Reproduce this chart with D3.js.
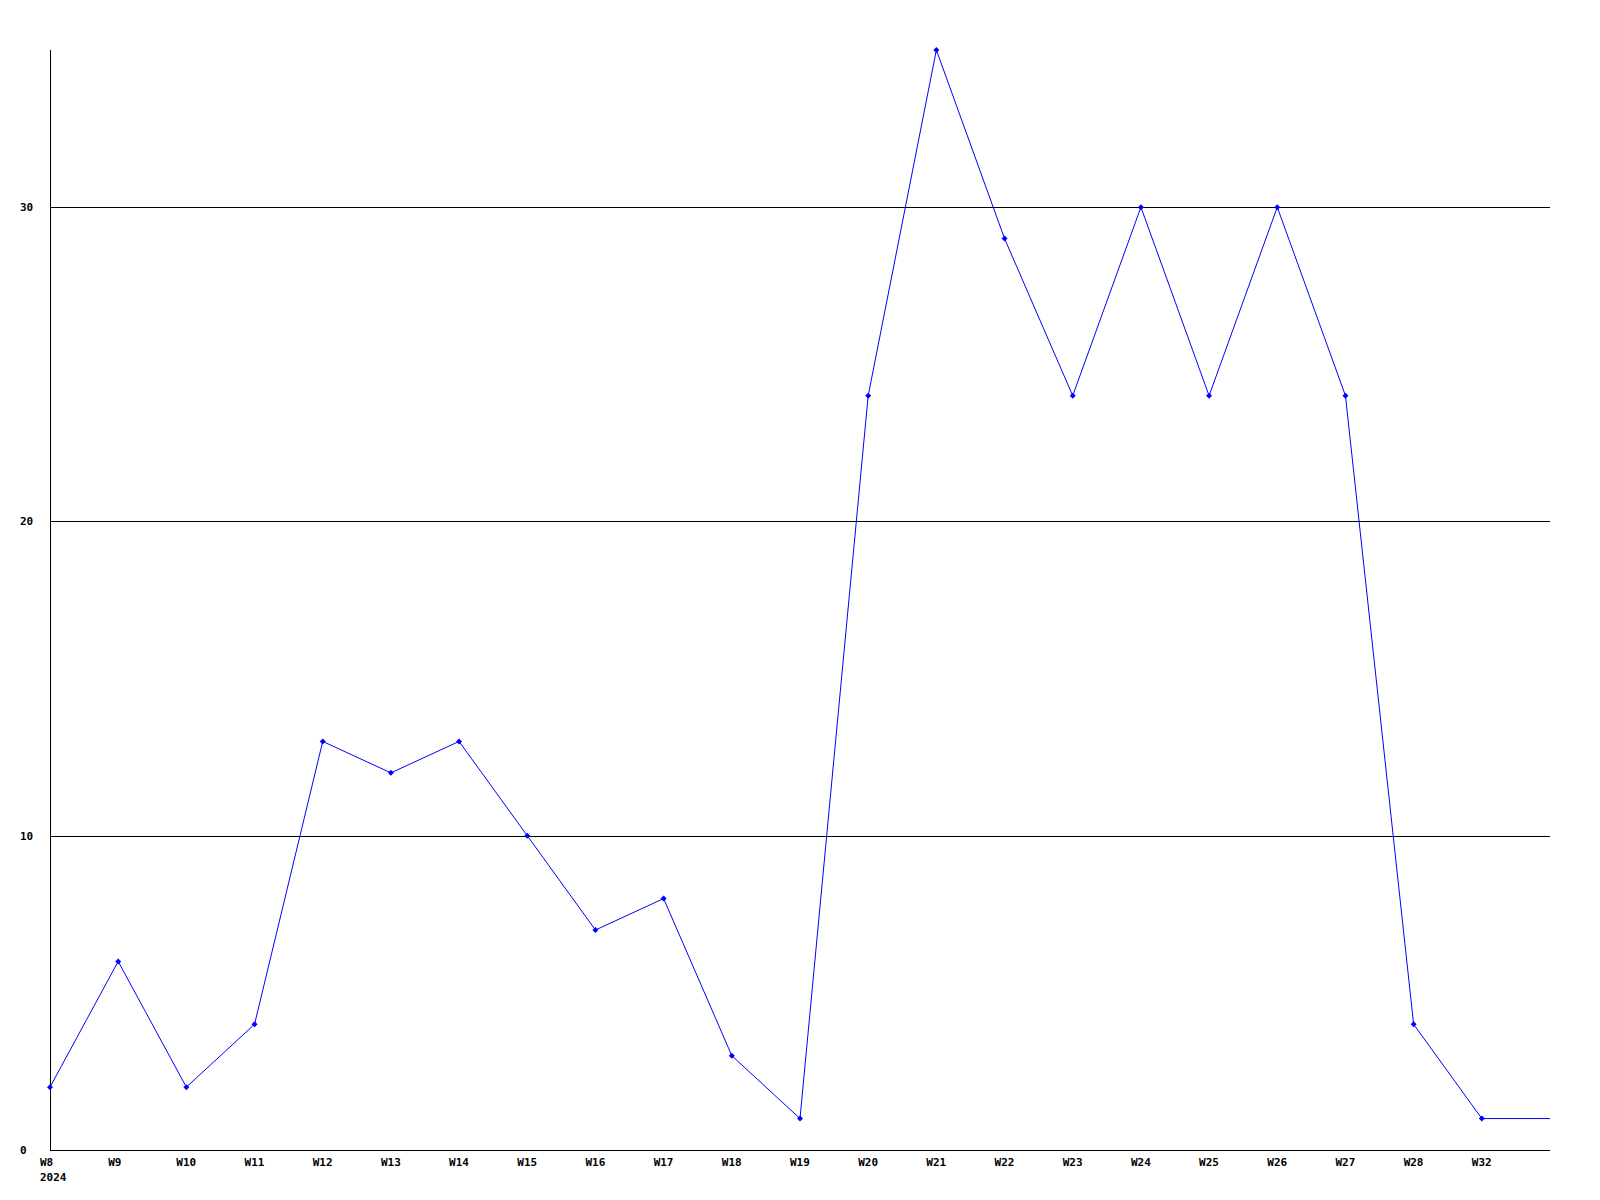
<!DOCTYPE html>
<html>
<head>
<meta charset="utf-8">
<script src="https://cdn.jsdelivr.net/npm/d3@7"></script>
<style>
  html, body { margin: 0; padding: 0; background: #fff; }
  svg { display: block; }
  text { font-family: "DejaVu Sans Mono", "Liberation Mono", monospace; font-weight: bold; font-size: 11px; fill: #000; }
</style>
</head>
<body>
<svg id="chart" width="1600" height="1200"></svg>
<script>
// Week labels along the x axis
const weekLabels = ["W8","W9","W10","W11","W12","W13","W14","W15","W16","W17","W18","W19","W20","W21","W22","W23","W24","W25","W26","W27","W28","W32"];
// Values per week (last entry continues the line to the plot's right edge, no marker)
const weekValues = [2,6,2,4,13,12,13,10,7,8,3,1,24,35,29,24,30,24,30,24,4,1,1];
const yearLabel = "2024";
const yTicks = [0,10,20,30];
const yMax = 35;

(function () {
const svg = d3.select("#chart");
const mLeft = 50, mRight = 1550, mTop = 50, mBottom = 1150;

const x = d3.scaleLinear().domain([0, weekValues.length - 1]).range([mLeft, mRight]);
const y = d3.scaleLinear().domain([0, yMax]).range([mBottom, mTop]);

// gridlines
svg.append("g").selectAll("line").data(yTicks.filter(d => d > 0)).join("line")
  .attr("x1", mLeft).attr("x2", mRight)
  .attr("y1", d => Math.round(y(d)) + 0.5).attr("y2", d => Math.round(y(d)) + 0.5)
  .attr("stroke", "#000").attr("stroke-width", 1).attr("shape-rendering", "crispEdges");

// axes lines
svg.append("line").attr("x1", mLeft + 0.5).attr("x2", mLeft + 0.5).attr("y1", mTop).attr("y2", mBottom)
  .attr("stroke", "#000").attr("shape-rendering", "crispEdges");
svg.append("line").attr("x1", mLeft).attr("x2", mRight).attr("y1", mBottom + 0.5).attr("y2", mBottom + 0.5)
  .attr("stroke", "#000").attr("shape-rendering", "crispEdges");

// y labels
svg.append("g").selectAll("text").data(yTicks).join("text")
  .attr("x", 20).attr("y", d => y(d)).attr("dy", "0.35em")
  .attr("text-anchor", "start").text(d => d);

// x labels
svg.append("g").selectAll("text").data(weekLabels).join("text")
  .attr("x", (d, i) => x(i) - 10).attr("y", 1166).text(d => d);
svg.append("text").attr("x", x(0) - 10).attr("y", 1181).text(yearLabel);

// line
const line = d3.line().x((d, i) => x(i)).y(d => y(d));
svg.append("path").datum(weekValues).attr("d", line)
  .attr("fill", "none").attr("stroke", "#0000ff").attr("stroke-width", 1);

// markers
svg.append("g").selectAll("path").data(weekValues.slice(0, weekLabels.length)).join("path")
  .attr("d", (d, i) => {
    const cx = x(i), cy = y(d), r = 3;
    return `M${cx - r},${cy}L${cx},${cy - r}L${cx + r},${cy}L${cx},${cy + r}Z`;
  })
  .attr("fill", "#0000ff");
})();
</script>
</body>
</html>
